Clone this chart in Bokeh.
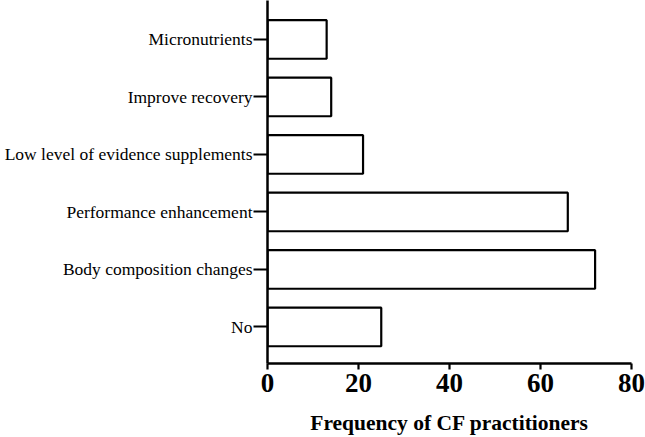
from bokeh.plotting import figure
from bokeh.models import Range1d, FixedTicker
from bokeh.embed import file_html
from bokeh.resources import INLINE

categories = ["No", "Body composition changes", "Performance enhancement",
              "Low level of evidence supplements", "Improve recovery", "Micronutrients"]
values = [25, 72, 66, 21, 14, 13]
x_ticks = [0, 20, 40, 60, 80]

pos = list(range(len(categories)))

p = figure(width=645, height=437, output_backend="svg", toolbar_location=None,
           x_range=Range1d(0, 80), y_range=Range1d(-0.635, 5.678),
           min_border_left=267, min_border_right=14, min_border_top=0, min_border_bottom=74)

p.hbar(y=pos, right=values, left=0, height=0.67, fill_color="white",
       line_color="black", line_width=2.2)

p.outline_line_color = None
p.xgrid.grid_line_color = None
p.ygrid.grid_line_color = None
p.background_fill_color = "white"
p.border_fill_color = "white"

font = "Liberation Serif"

xa = p.xaxis[0]
xa.ticker = FixedTicker(ticks=x_ticks, minor_ticks=[])
xa.axis_line_width = 2.5
xa.major_tick_line_width = 2.2
xa.major_tick_out = 6
xa.major_tick_in = 0
xa.minor_tick_line_color = None
xa.major_label_text_font = font
xa.major_label_text_font_style = "bold"
xa.major_label_text_font_size = "27px"
xa.major_label_text_color = "black"
xa.major_label_standoff = 4
xa.axis_label = "Frequency of CF practitioners"
xa.axis_label_text_font = font
xa.axis_label_text_font_style = "bold"
xa.axis_label_text_font_size = "21.5px"
xa.axis_label_text_color = "black"
xa.axis_label_standoff = 16

ya = p.yaxis[0]
ya.ticker = FixedTicker(ticks=pos, minor_ticks=[])
ya.major_label_overrides = {i: c for i, c in zip(pos, categories)}
ya.axis_line_width = 2.5
ya.major_tick_line_width = 2.2
ya.major_tick_out = 14
ya.major_tick_in = 0
ya.minor_tick_line_color = None
ya.major_label_text_font = font
ya.major_label_text_font_size = "17.5px"
ya.major_label_text_color = "black"
ya.major_label_standoff = 1

open("out.html", "w").write(file_html(p, INLINE))
